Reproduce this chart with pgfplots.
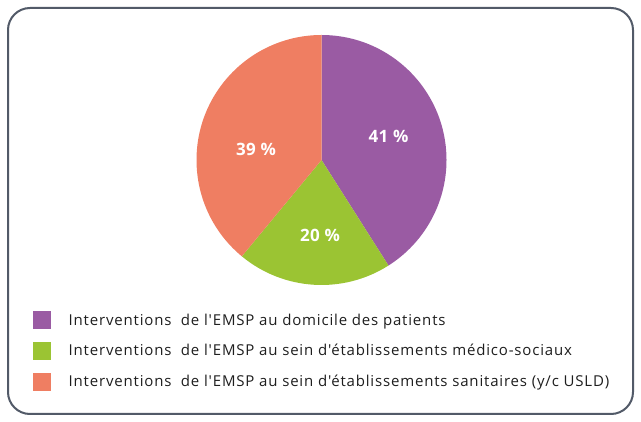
\documentclass[border=0pt]{standalone}
\usepackage{pgfplots}
\pgfplotsset{compat=1.18}
\usepackage{fontspec}
\defaultfontfeatures{Ligatures=TeXOff}
\setmainfont{Open Sans}[Ligatures=TeXOff]
\definecolor{cpurp}{HTML}{9A5BA3}
\definecolor{cgreen}{HTML}{9BC433}
\definecolor{corange}{HTML}{EF7E62}
\definecolor{cborder}{HTML}{525A68}
\definecolor{ctext}{HTML}{1E1E1E}
\begin{document}
\begin{tikzpicture}
\begin{axis}[
  scale only axis, width=641bp, height=422bp,
  xmin=0, xmax=641, ymin=0, ymax=422,
  hide axis, clip=false]
% data (percent)
\def\va{41}\def\vb{20}\def\vc{39}
\pgfmathsetmacro{\aA}{90}
\pgfmathsetmacro{\aB}{90-\va*3.6}
\pgfmathsetmacro{\aC}{\aB-\vb*3.6}
\pgfmathsetmacro{\aD}{\aC-\vc*3.6}
\path (axis cs:0,0) (axis cs:641,422);
\draw[cborder, line width=2bp, rounded corners=22bp] (axis cs:8,8) rectangle (axis cs:633,414);
\fill[cpurp] (axis cs:321.5,262) -- ++(\aA:125bp) arc[start angle=\aA, end angle=\aB, radius=125bp] -- cycle;
\fill[cgreen] (axis cs:321.5,262) -- ++(\aB:125bp) arc[start angle=\aB, end angle=\aC, radius=125bp] -- cycle;
\fill[corange] (axis cs:321.5,262) -- ++(\aC:125bp) arc[start angle=\aC, end angle=\aD, radius=125bp] -- cycle;
\begin{scope}[every node/.style={white, font=\fontsize{17bp}{20bp}\selectfont\bfseries\addfontfeature{LetterSpace=2}}]
\node at (axis cs:388.5,286) {\va~\%};
\node at (axis cs:320,186.5) {\vb~\%};
\node at (axis cs:256,273) {\vc~\%};
\end{scope}
% legend
\fill[cpurp] (axis cs:32.5,92.5) rectangle (axis cs:50.5,110.5);
\fill[cgreen] (axis cs:32.5,62) rectangle (axis cs:50.5,80);
\fill[corange] (axis cs:32.5,31) rectangle (axis cs:50.5,49);
\begin{scope}[every node/.style={anchor=base west, inner sep=0pt, text=ctext, font=\fontsize{15bp}{18bp}\selectfont\addfontfeature{LetterSpace=5.5}}]
\node at (axis cs:68.5,96.5) {Interventions\ \ de l'EMSP au domicile des patients};
\node at (axis cs:68.5,66) {Interventions\ \ de l'EMSP au sein d'établissements médico-sociaux};
\node at (axis cs:68.5,35) {Interventions\ \ de l'EMSP au sein d'établissements sanitaires (y/c USLD)};
\end{scope}
\end{axis}
\end{tikzpicture}
\end{document}
